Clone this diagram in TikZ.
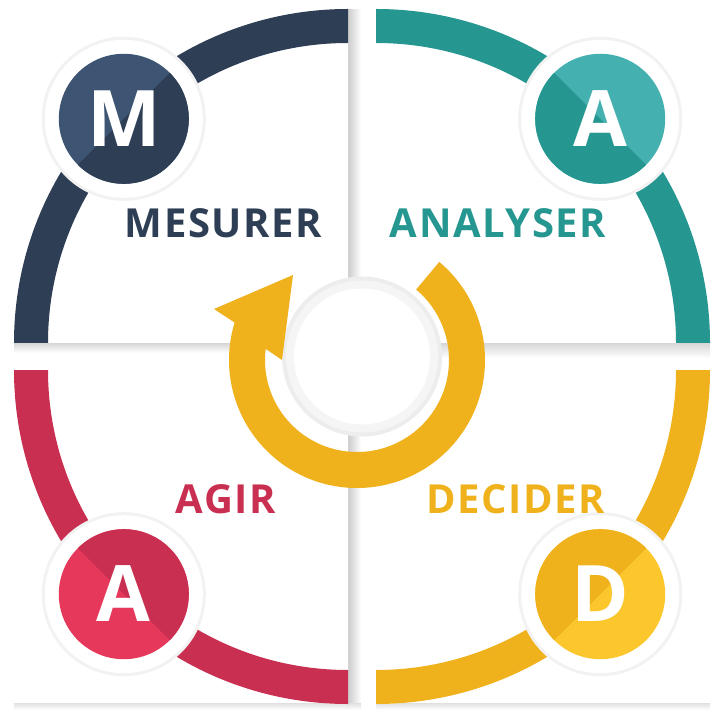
\documentclass[tikz,border=0pt]{standalone}
\usepackage{fontspec}
\setmainfont{Open Sans}
\newfontfamily\widefont[LetterSpace=4]{Open Sans}
\usetikzlibrary{calc}
\definecolor{cNavy}{HTML}{2E3E55}
\definecolor{cNavyL}{HTML}{3D5573}
\definecolor{cTeal}{HTML}{259690}
\definecolor{cTealL}{HTML}{45B0B0}
\definecolor{cRed}{HTML}{C92F50}
\definecolor{cRedL}{HTML}{E6385B}
\definecolor{cYel}{HTML}{F0B21C}
\definecolor{cYelL}{HTML}{FCC62D}
\tikzset{
  wordlbl/.style={anchor=base, inner sep=0pt, font=\widefont\fontsize{40}{45}\selectfont\bfseries},
  letterlbl/.style={anchor=base, inner sep=0pt, text=white, font=\fontsize{78}{80}\selectfont\bfseries},
}
\begin{document}
\begin{tikzpicture}[x=1pt,y=1pt]
\useasboundingbox (0,0) rectangle (711,710);
\fill[white] (0,0) rectangle (711,710);
% arc centres
\coordinate (TL) at (348,367);
\coordinate (TR) at (376,367);
\coordinate (BL) at (348,340);
\coordinate (BR) at (376,340);
\coordinate (C) at (357,350);
\coordinate (O) at (362,353.5);
% tile shadows
\shade[left color=black!20,right color=white] (348,357) rectangle (361,700);
\shade[top color=black!16,bottom color=white] (14,357) rectangle (361,367);
\shade[top color=black!16,bottom color=white] (376,352) rectangle (710,367);
\shade[left color=black!20,right color=white] (348,0) rectangle (361,340);
\shade[top color=black!12,bottom color=white] (14,0) rectangle (361,7);
\shade[top color=black!12,bottom color=white] (376,0) rectangle (710,7);
\draw[black!6, line width=0.8pt] (376.4,367) -- (376.4,700);
\draw[black!6, line width=0.8pt] (376.4,7) -- (376.4,340);
% tiles
\fill[white] (TL) -- ++(90:334) arc[start angle=90,end angle=180,radius=334] -- cycle;
\fill[white] (TR) -- ++(0:334) arc[start angle=0,end angle=90,radius=334] -- cycle;
\fill[white] (BL) -- ++(180:334) arc[start angle=180,end angle=270,radius=334] -- cycle;
\fill[white] (BR) -- ++(270:334) arc[start angle=270,end angle=360,radius=334] -- cycle;
% coloured arcs
\fill[cNavy] ($(TL)+(90:334)$) arc[start angle=90,end angle=180,radius=334] -- ($(TL)+(180:300)$) arc[start angle=180,end angle=90,radius=300] -- cycle;
\fill[cTeal] ($(TR)+(0:334)$) arc[start angle=0,end angle=90,radius=334] -- ($(TR)+(90:300)$) arc[start angle=90,end angle=0,radius=300] -- cycle;
\fill[cRed] ($(BL)+(180:334)$) arc[start angle=180,end angle=270,radius=334] -- ($(BL)+(270:300)$) arc[start angle=270,end angle=180,radius=300] -- cycle;
\fill[cYel] ($(BR)+(270:334)$) arc[start angle=270,end angle=360,radius=334] -- ($(BR)+(0:300)$) arc[start angle=0,end angle=-90,radius=300] -- cycle;
% centre disc
\fill[black!7] (O) circle (80);
\fill[black!4] (O) circle (76);
\fill[white] (O) circle (68);
% circular arrow
\coordinate (barbL) at (214,401);
\coordinate (tip) at (293,435);
\coordinate (barbR) at (282,350);
\fill[cYel] ($(C)+(50:128)$) arc[start angle=50,end angle=-197,radius=128]
  -- (barbL) -- (tip) -- (barbR)
  -- ($(C)+(-187:92)$) arc[start angle=-187,end angle=50,radius=92] -- cycle;
% badges
\foreach \n/\cx/\cy/\ang/\lt/\dk/\txt in {
  bM/123.8/591.2/135/cNavyL/cNavy/M,
  bA1/600.2/591.2/45/cTealL/cTeal/A,
  bA2/123.8/115.8/225/cRedL/cRed/A,
  bD/600.2/115.8/-45/cYelL/cYel/D}{
  \fill[black!5] (\cx,\cy) circle (82);
  \fill[white] (\cx,\cy) circle (79);
  \fill[\lt] (\cx,\cy) circle (65);
  \fill[\dk] ($(\cx,\cy)+(\ang+90:65)$) arc[start angle=\ang+90,end angle=\ang+270,radius=65] -- cycle;
  \node[letterlbl] (\n) at (\cx,\cy-27.5) {\txt};
}
% words
\node[wordlbl, text=cNavy] (wM) at (223.5,472) {MESURER};
\node[wordlbl, text=cTeal] (wA) at (498,472) {ANALYSER};
\node[wordlbl, text=cRed] (wG) at (226,197) {AGIR};
\node[wordlbl, text=cYel] (wD) at (515.5,197) {DECIDER};
\end{tikzpicture}
\end{document}
